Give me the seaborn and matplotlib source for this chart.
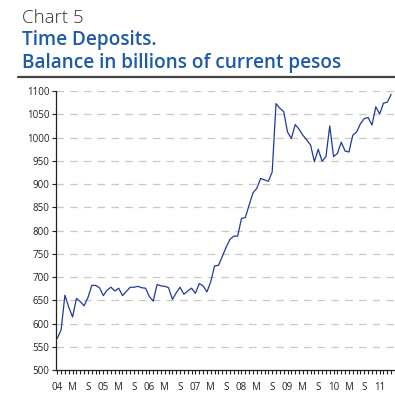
import matplotlib
matplotlib.use("Agg")
import matplotlib.pyplot as plt
import seaborn as sns
import pandas as pd
import numpy as np

# Monthly balance of time deposits, Jan 2004 - Apr 2011 (billions of current pesos)
balance = [
    568, 586, 661, 635, 614, 654, 647, 638, 656, 682, 682, 677,   # 2004
    660, 672, 678, 670, 676, 660, 669, 678, 678, 680, 677, 676,   # 2005
    658, 648, 684, 681, 680, 677, 652, 666, 678, 663, 670, 676,   # 2006
    665, 686, 681, 668, 690, 724, 725, 744, 764, 781, 788, 788,   # 2007
    826, 828, 855, 881, 891, 912, 909, 906, 926, 1073, 1063, 1056,  # 2008
    1012, 998, 1028, 1018, 1005, 995, 984, 948, 975, 949, 959, 1025,  # 2009
    959, 966, 990, 971, 969, 1005, 1012, 1030, 1041, 1043, 1027, 1066,  # 2010
    1051, 1074, 1076, 1093,                                           # 2011
]
month_labels = ["04", "M", "S", "05", "M", "S", "06", "M", "S", "07", "M", "S",
                "08", "M", "S", "09", "M", "S", "10", "M", "S", "11"]
y_ticks = list(range(500, 1101, 50))

title_top = "Chart 5"
title_lines = ["Time Deposits.", "Balance in billions of current pesos"]

df = pd.DataFrame({"month": np.arange(len(balance)), "balance": balance})

sns.set_style("white")
plt.rcParams["font.family"] = ["Open Sans", "DejaVu Sans"]

fig = plt.figure(figsize=(3.95, 3.99), dpi=100)
ax = fig.add_axes([0.143, 0.0727, 0.857, 0.699])

sns.lineplot(data=df, x="month", y="balance", ax=ax, color="#1f3b98", linewidth=0.9)

ax.set_ylim(500, 1100)
ax.set_xlim(-0.2, len(balance))
ax.set_yticks(y_ticks)
ax.set_yticklabels([str(v) for v in y_ticks], fontsize=7, color="#222222")
ax.set_xticks(np.arange(0, len(balance), 4))
ax.set_xticklabels(month_labels, fontsize=7, color="#222222")
ax.set_xticks(np.arange(0, len(balance) + 1), minor=True)
ax.tick_params(axis="x", which="both", direction="out", length=3, width=0.8,
               color="#222222", pad=6, bottom=True)
ax.tick_params(axis="y", direction="out", length=3, width=0.8, color="#222222",
               pad=2, left=True)
ax.set_xlabel("")
ax.set_ylabel("")

for v in y_ticks[1:]:
    ax.axhline(v, color="#c8c8c8", linewidth=0.9, dashes=(6, 5), zorder=0)

sns.despine(ax=ax, top=True, right=True)
ax.spines["left"].set_color("#222222")
ax.spines["bottom"].set_color("#222222")
ax.spines["left"].set_linewidth(0.9)
ax.spines["bottom"].set_linewidth(0.9)

fig.text(0.055, 0.942, title_top, fontsize=13.5, color="#333333",
         fontweight="light", va="baseline", ha="left")
for txt, yb in zip(title_lines, [0.887, 0.830]):
    fig.text(0.055, yb, txt, fontsize=13.7, color="#1d5aa8",
             fontweight="semibold", va="baseline", ha="left")
fig.add_artist(plt.Line2D([0.046, 1.0], [0.807, 0.807], color="#444444",
                          linewidth=1.6, transform=fig.transFigure))

fig.savefig("out.png", dpi=100)
